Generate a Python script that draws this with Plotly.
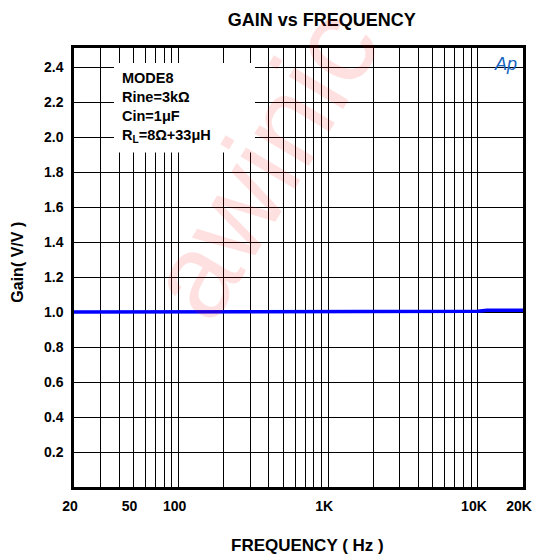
import plotly.graph_objects as go

# ---- data ----
freq_hz = [20, 50, 100, 200, 500, 1000, 2000, 4500, 5000, 10000, 11500, 20000]
gain_vv = [1.0, 1.0, 1.0, 1.0, 1.0, 1.0, 1.0, 1.0, 1.005, 1.005, 1.01, 1.01]

x_grid_vals = [20, 30, 40, 50, 60, 70, 80, 90,
               100, 200, 300, 400, 500, 600, 700, 800, 900,
               1000, 2000, 3000, 4000, 5000, 6000, 7000, 8000, 9000,
               10000, 20000]
x_label_map = {20: "20", 50: "50", 100: "100", 1000: "1K", 10000: "10K", 20000: "20K"}
x_tick_text = [x_label_map.get(v, " ") for v in x_grid_vals]

y_tick_vals = [0.2, 0.4, 0.6, 0.8, 1.0, 1.2, 1.4, 1.6, 1.8, 2.0, 2.2, 2.4]
y_tick_text = ["%.1f" % v for v in y_tick_vals]

info_lines = ["MODE8", "Rine=3kΩ", "Cin=1μF", "R<sub>L</sub>=8Ω+33μH"]

FONT = "Liberation Sans, Arial, sans-serif"

fig = go.Figure()
fig.add_trace(go.Scatter(
    x=freq_hz, y=gain_vv, mode="lines",
    line=dict(color="#0000FF", width=3.5),
    showlegend=False, hoverinfo="skip",
))

# page body adds an 8px offset
fig.update_layout(
    width=540, height=548,
    margin=dict(l=66, r=25, t=40, b=69, autoexpand=False),
    paper_bgcolor="white", plot_bgcolor="white",
    font=dict(family=FONT, color="black"),
    title=dict(text="<b>GAIN vs FREQUENCY</b>", font=dict(size=18, family=FONT, color="black"),
               xref="paper", yref="container", x=0.552, y=1 - 12 / 548,
               xanchor="center", yanchor="middle"),
)

fig.update_xaxes(
    type="log", range=[1.30103, 4.30103], automargin=False,
    tickvals=x_grid_vals, ticktext=x_tick_text, tickangle=0,
    ticklabeloverflow="allow", ticklabelshift=-4,
    tickfont=dict(size=14, family=FONT, color="black", weight="bold"),
    showgrid=True, gridcolor="black", gridwidth=1.4,
    showline=True, linecolor="black", linewidth=3, mirror=True,
    ticks="", ticklabelstandoff=4, zeroline=False,
)
fig.update_yaxes(
    range=[0, 2.51], automargin=False,
    tickvals=y_tick_vals, ticktext=y_tick_text,
    tickfont=dict(size=14, family=FONT, color="black", weight="bold"),
    showgrid=True, gridcolor="black", gridwidth=1.4,
    showline=True, linecolor="black", linewidth=2.5, mirror=True,
    ticks="", ticklabelstandoff=5, zeroline=False,
)

# white box behind the condition text
fig.add_shape(type="rect", xref="paper", yref="paper",
              x0=0.089, x1=0.403, y0=0.762, y1=0.966,
              fillcolor="white", line=dict(width=0), layer="above")

annotations = [
    dict(text="awinic", xref="paper", yref="paper", x=0.418, y=0.738,
         xanchor="center", yanchor="middle", showarrow=False, textangle=-59,
         font=dict(size=120, family=FONT, color="rgba(255,0,0,0.12)")),
    dict(text="<br>".join(info_lines), xref="paper", yref="paper",
         x=0.102, y=0.955, xanchor="left", yanchor="top", align="left",
         showarrow=False, font=dict(size=14.5, family=FONT, color="black", weight="bold")),
    dict(text="<i>Ap</i>", xref="paper", yref="paper", x=0.962, y=0.963,
         xanchor="center", yanchor="middle", showarrow=False,
         font=dict(size=18, family=FONT, color="#1565C0")),
    dict(text="<b>FREQUENCY ( Hz )</b>", xref="paper", yref="paper", x=0.521, y=-0.133,
         xanchor="center", yanchor="middle", showarrow=False,
         font=dict(size=17, family=FONT, color="black")),
    dict(text="<b>Gain( V/V )</b>", xref="paper", yref="paper", x=-0.125, y=0.513,
         xanchor="center", yanchor="middle", showarrow=False, textangle=-90,
         font=dict(size=16, family=FONT, color="black")),
]
fig.update_layout(annotations=annotations)

fig.write_html("out.html")
